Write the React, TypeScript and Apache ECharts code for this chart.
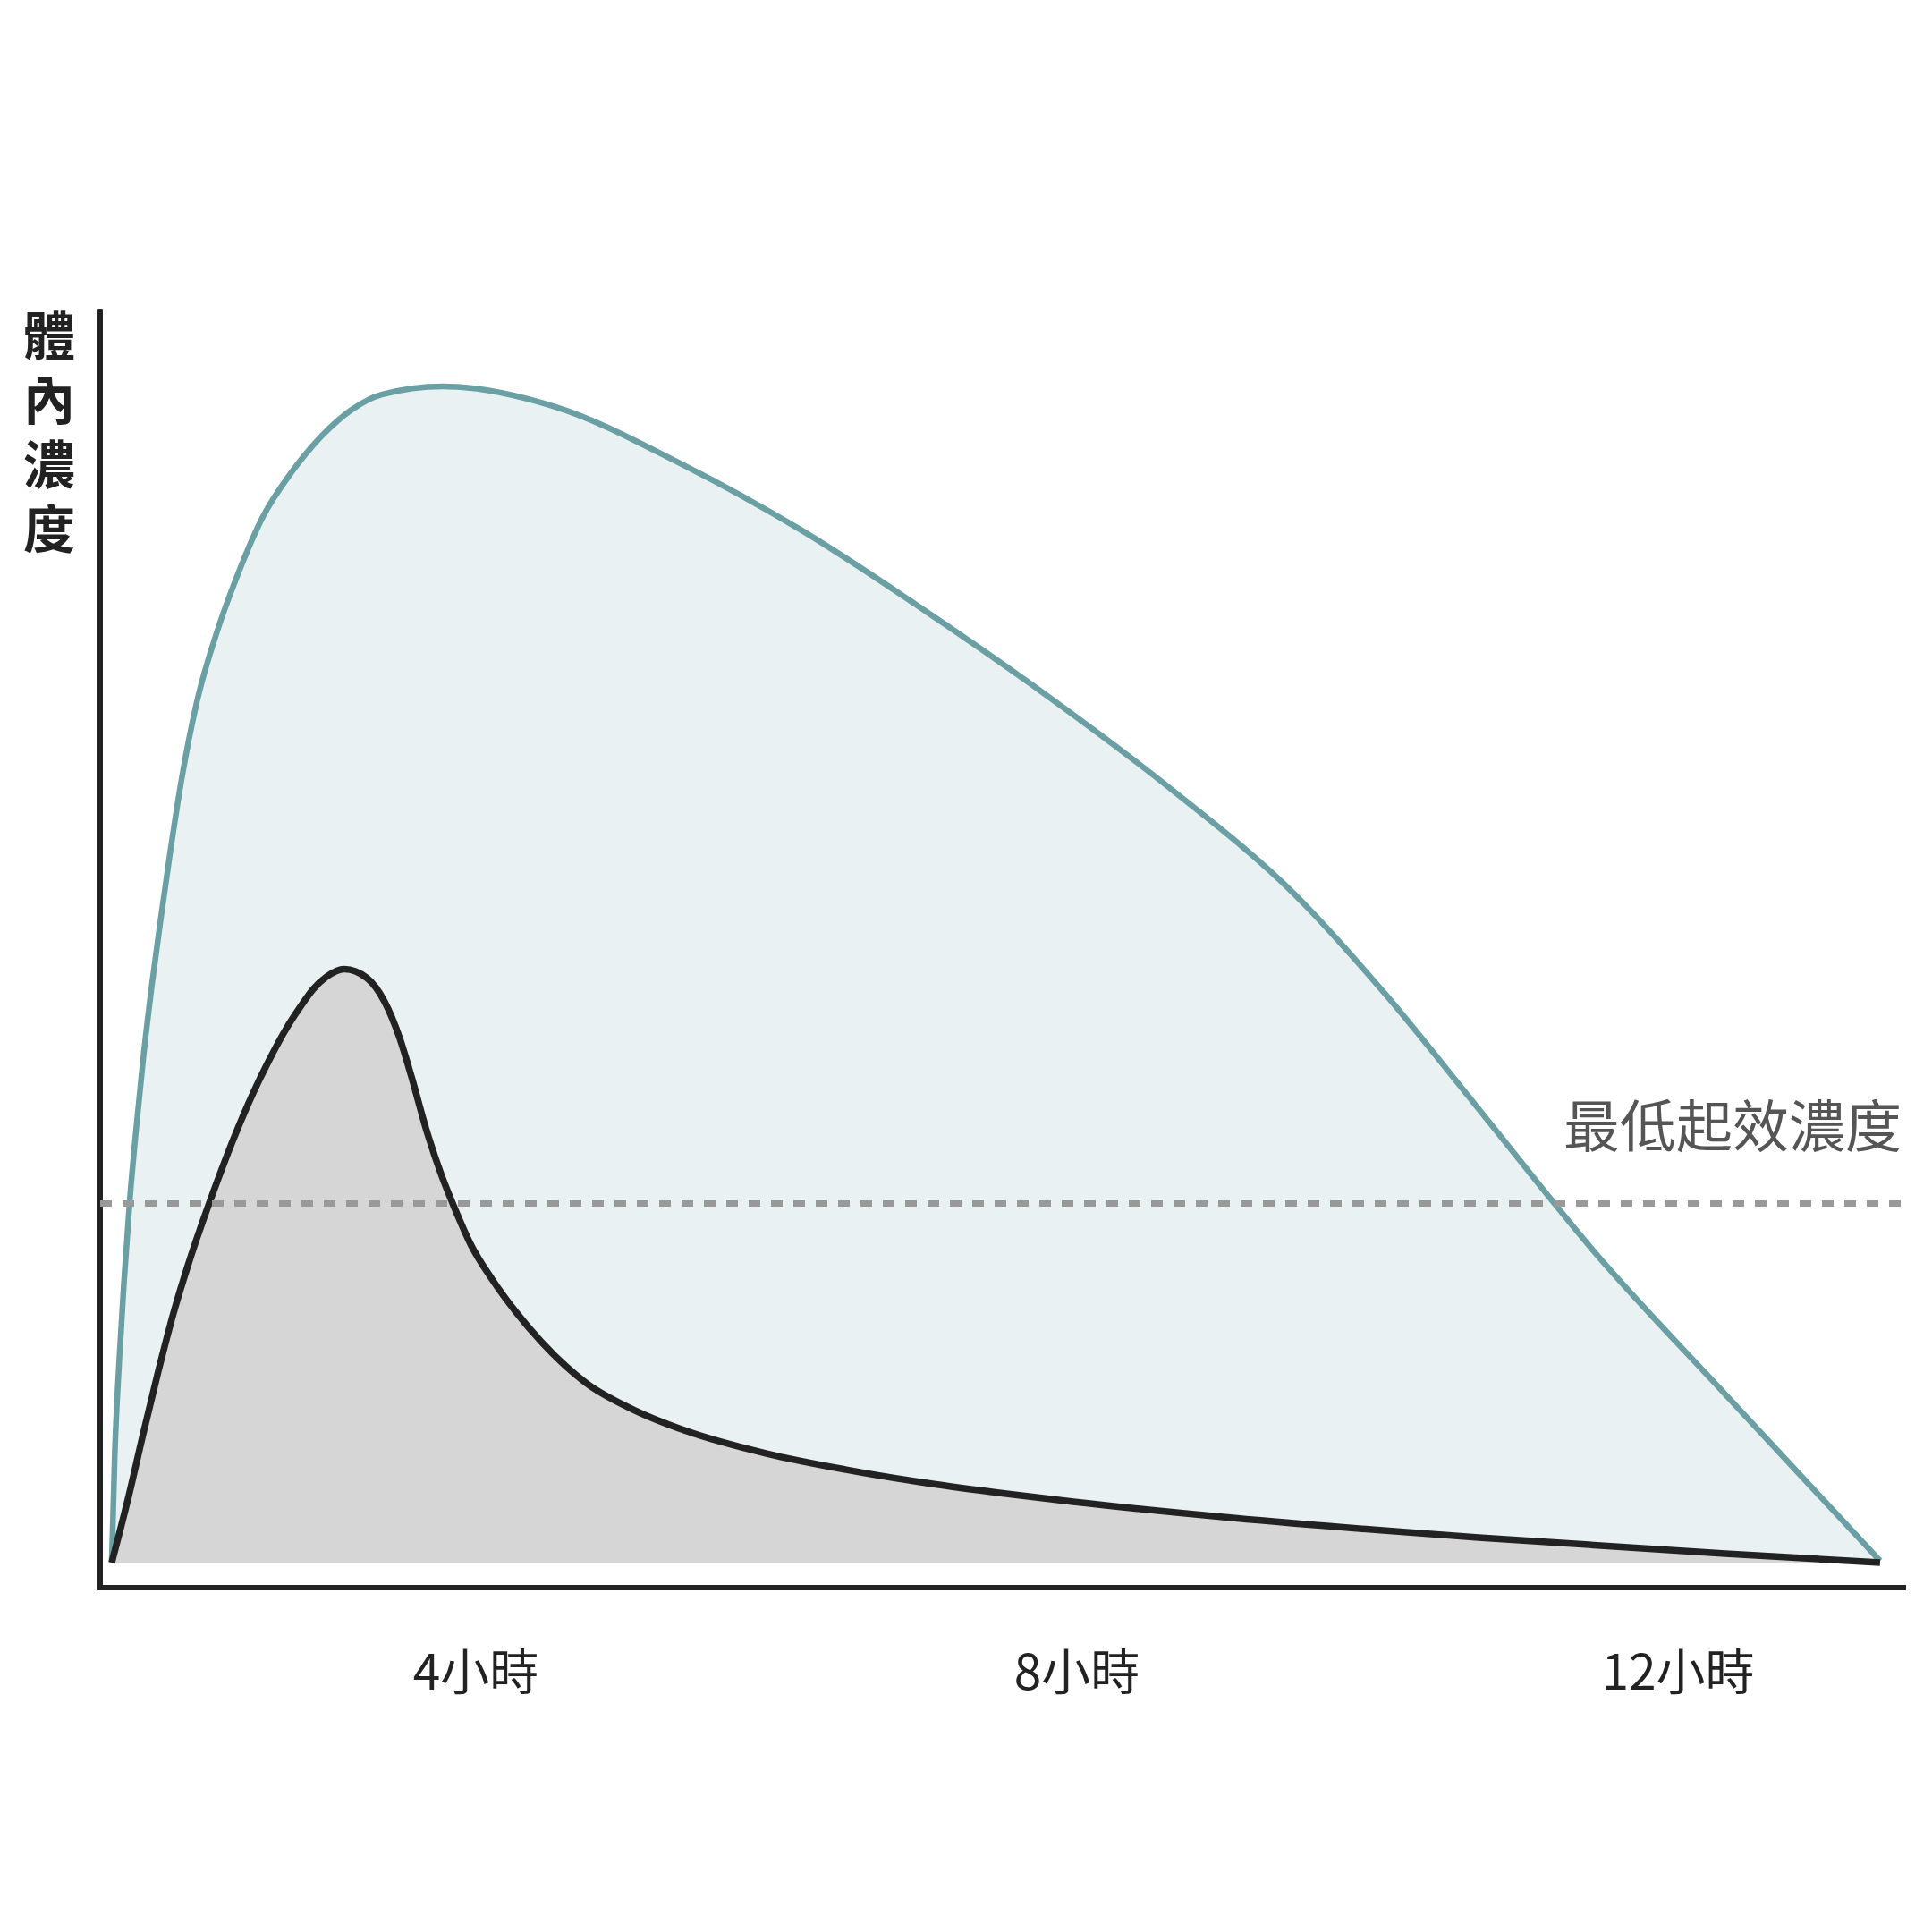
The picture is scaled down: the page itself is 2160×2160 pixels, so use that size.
import React, { useEffect, useRef } from "react";
import * as echarts from "echarts";

// Hours (x) and relative concentration (y)
const tealHours = [1.577, 1.597, 1.627, 1.657, 1.696, 1.736, 1.786, 1.845, 1.905, 1.964, 2.043, 2.143, 2.282, 2.421, 2.579, 2.778, 2.976, 3.174, 3.373, 3.78, 4.524, 5.343, 6.163, 6.982, 7.804, 8.623, 9.443, 10.06, 10.655, 11.446, 12.321, 13.345];
const tealValues = [0, 8.65, 16.15, 22.16, 28.81, 34.24, 40.24, 46.25, 51.61, 56.61, 62.69, 68.76, 74.55, 79.13, 83.49, 87.21, 90.06, 92.14, 93.35, 94.0, 92.38, 87.95, 82.53, 76.13, 69.26, 61.85, 53.48, 45.32, 36.53, 24.8, 13.37, 0.14];

const blackHours = [1.577, 1.685, 1.786, 1.887, 1.988, 2.095, 2.226, 2.381, 2.518, 2.619, 2.738, 2.827, 2.917, 3.006, 3.125, 3.274, 3.393, 3.492, 3.571, 3.671, 3.77, 3.849, 3.968, 4.107, 4.266, 4.435, 4.738, 5.058, 5.404, 5.935, 6.464, 7.0, 7.53, 7.976, 9.036, 10.673, 12.315, 13.345];
const blackValues = [0, 5.08, 10.29, 15.3, 19.94, 24.16, 28.73, 33.67, 37.53, 40.03, 42.67, 44.32, 45.82, 46.82, 47.43, 46.73, 44.82, 41.96, 38.86, 34.57, 31.0, 28.61, 25.38, 22.66, 20.04, 17.66, 14.32, 12.17, 10.51, 8.72, 7.43, 6.36, 5.5, 4.86, 3.57, 2.0, 0.71, 0];

const threshold = 28.7;
const thresholdLabel = "最低起效濃度";
const tickHours = [4, 8, 12];
const tickSuffix = "小時";
const yAxisTitleChars = ["體", "內", "濃", "度"];
const xRange = [1.5, 13.5];

const FONT = '"Noto Sans CJK TC", "Noto Sans", sans-serif';

// Monotone cubic (x-monotone) path through pixel points
function monotonePath(pts: number[][]): string {
  const n = pts.length;
  const h: number[] = [];
  const s: number[] = [];
  for (let i = 0; i < n - 1; i++) {
    h[i] = pts[i + 1][0] - pts[i][0];
    s[i] = h[i] !== 0 ? (pts[i + 1][1] - pts[i][1]) / h[i] : 0;
  }
  const t: number[] = new Array(n).fill(0);
  for (let i = 1; i < n - 1; i++) {
    const s0 = s[i - 1];
    const s1 = s[i];
    const h0 = h[i - 1];
    const h1 = h[i];
    const p = (s0 * h1 + s1 * h0) / (h0 + h1);
    t[i] = (Math.sign(s0) + Math.sign(s1)) * Math.min(Math.abs(s0), Math.abs(s1), 0.5 * Math.abs(p)) || 0;
  }
  t[0] = (3 * s[0] - t[1]) / 2;
  t[n - 1] = (3 * s[n - 2] - t[n - 2]) / 2;
  let d = `M${pts[0][0]},${pts[0][1]}`;
  for (let i = 0; i < n - 1; i++) {
    const dx = h[i] / 3;
    const c1x = pts[i][0] + dx;
    const c1y = pts[i][1] + t[i] * dx;
    const c2x = pts[i + 1][0] - dx;
    const c2y = pts[i + 1][1] - t[i + 1] * dx;
    d += ` C${c1x},${c1y} ${c2x},${c2y} ${pts[i + 1][0]},${pts[i + 1][1]}`;
  }
  return d;
}

function curveSeries(hours: number[], values: number[], stroke: string, fill: string, width: number, z: number) {
  const data = hours.map((h, i) => [h, values[i]]);
  return {
    type: "custom",
    coordinateSystem: "cartesian2d",
    data,
    encode: { x: 0, y: 1 },
    z,
    silent: true,
    renderItem: (params: any, api: any) => {
      if (params.dataIndex !== 0) return null;
      const pts = data.map((d) => api.coord(d));
      const line = monotonePath(pts);
      const y0 = api.coord([hours[0], 0])[1];
      const area = `${line} L${pts[pts.length - 1][0]},${y0} L${pts[0][0]},${y0} Z`;
      return {
        type: "group",
        children: [
          { type: "path", shape: { pathData: area }, style: { fill, stroke: "none" } },
          {
            type: "path",
            shape: { pathData: line },
            style: { fill: "none", stroke, lineWidth: width, lineJoin: "round" },
          },
        ],
      };
    },
  };
}

export default function App() {
  const ref = useRef<HTMLDivElement>(null);
  useEffect(() => {
    if (!ref.current) return;
    const chart = echarts.init(ref.current, null, { renderer: "svg" });
    chart.setOption({
      animation: false,
      backgroundColor: "#ffffff",
      textStyle: { fontFamily: FONT },
      grid: { left: 112, right: 32, top: 348, bottom: 385, containLabel: false },
      xAxis: {
        type: "value",
        min: xRange[0],
        max: xRange[1],
        axisLine: { show: true, onZero: false, lineStyle: { color: "#222222", width: 6, cap: "square" } },
        axisTick: { show: false },
        splitLine: { show: false },
        axisLabel: {
          customValues: tickHours,
          formatter: (v: number) => `${v}${tickSuffix}`,
          fontSize: 55,
          color: "#222222",
          margin: 62,
          fontFamily: FONT,
        },
      },
      yAxis: {
        type: "value",
        min: -2,
        max: 100,
        axisLine: { show: true, onZero: false, lineStyle: { color: "#222222", width: 6 } },
        axisTick: { show: false },
        axisLabel: { show: false },
        splitLine: { show: false },
      },
      graphic: yAxisTitleChars.map((ch, i) => ({
        type: "text",
        x: 55,
        y: 372 + i * 72,
        style: {
          text: ch,
          fontSize: 58,
          lineHeight: 60,
          fontWeight: "bold",
          fill: "#222222",
          fontFamily: FONT,
          align: "center",
          verticalAlign: "middle",
        },
      })),
      series: [
        curveSeries(tealHours, tealValues, "#6a9fa3", "#e9f1f3", 6.5, 2),
        curveSeries(blackHours, blackValues, "#222222", "#d6d6d6", 7.5, 3),
        {
          type: "line",
          data: [
            [xRange[0], threshold],
            [xRange[1], threshold],
          ],
          showSymbol: false,
          silent: true,
          lineStyle: { opacity: 0 },
          z: 4,
          markLine: {
            silent: true,
            symbol: ["none", "none"],
            lineStyle: { color: "#999999", width: 7, type: [13, 12] },
            label: {
              show: true,
              position: "insideEndTop",
              formatter: thresholdLabel,
              fontSize: 63,
              color: "#555555",
              fontFamily: FONT,
              distance: [2, 60],
            },
            data: [{ yAxis: threshold }],
          },
        },
      ],
    });
    return () => chart.dispose();
  }, []);
  return (
    <div
      ref={ref}
      style={{ position: "absolute", left: 0, top: 0, width: 2160, height: 2160 }}
    />
  );
}
